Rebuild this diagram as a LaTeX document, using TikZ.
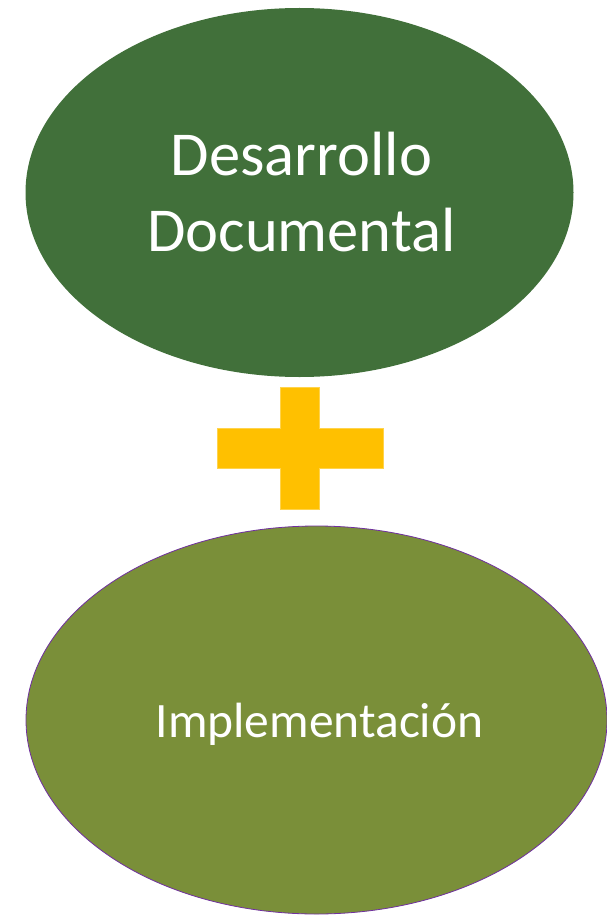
\documentclass[tikz,border=0pt]{standalone}
\usepackage{fontspec}
\setmainfont{Carlito}
\usetikzlibrary{shapes.geometric}
\definecolor{darkgreen}{HTML}{41703A}
\definecolor{olivegreen}{HTML}{7A8F39}
\definecolor{plusgold}{HTML}{FFC000}
\definecolor{rimpurple}{HTML}{7030A0}
\tikzset{
  blob/.style={ellipse, inner sep=0pt, draw=none},
  whitetext/.style={text=white, inner sep=0pt, anchor=base}
}
\begin{document}
\begin{tikzpicture}[x=1pt,y=-1pt]
\useasboundingbox (0,0) rectangle (607,915);
\node[blob, fill=darkgreen, minimum width=548pt, minimum height=369pt] (dev) at (299.5,192.5) {};
\node[blob, fill=olivegreen, draw=rimpurple, line width=0.8pt, minimum width=581pt, minimum height=388pt] (impl) at (316.5,720) {};
\node[whitetext, font=\fontsize{62.5}{77}\selectfont] (t1) at (301.5,175) {Desarrollo};
\node[whitetext, font=\fontsize{62.5}{77}\selectfont] (t2) at (301.5,251) {Documental};
\node[whitetext, font=\fontsize{49.5}{60}\selectfont] (t3) at (319.5,737) {Implementación};
\fill[plusgold, draw=plusgold!70!white, line width=0.6pt]
  (280,387) -- (319,387) -- (319,428) -- (383,428) -- (383,468) -- (319,468)
  -- (319,509) -- (280,509) -- (280,468) -- (217,468) -- (217,428) -- (280,428) -- cycle;
\end{tikzpicture}
\end{document}
